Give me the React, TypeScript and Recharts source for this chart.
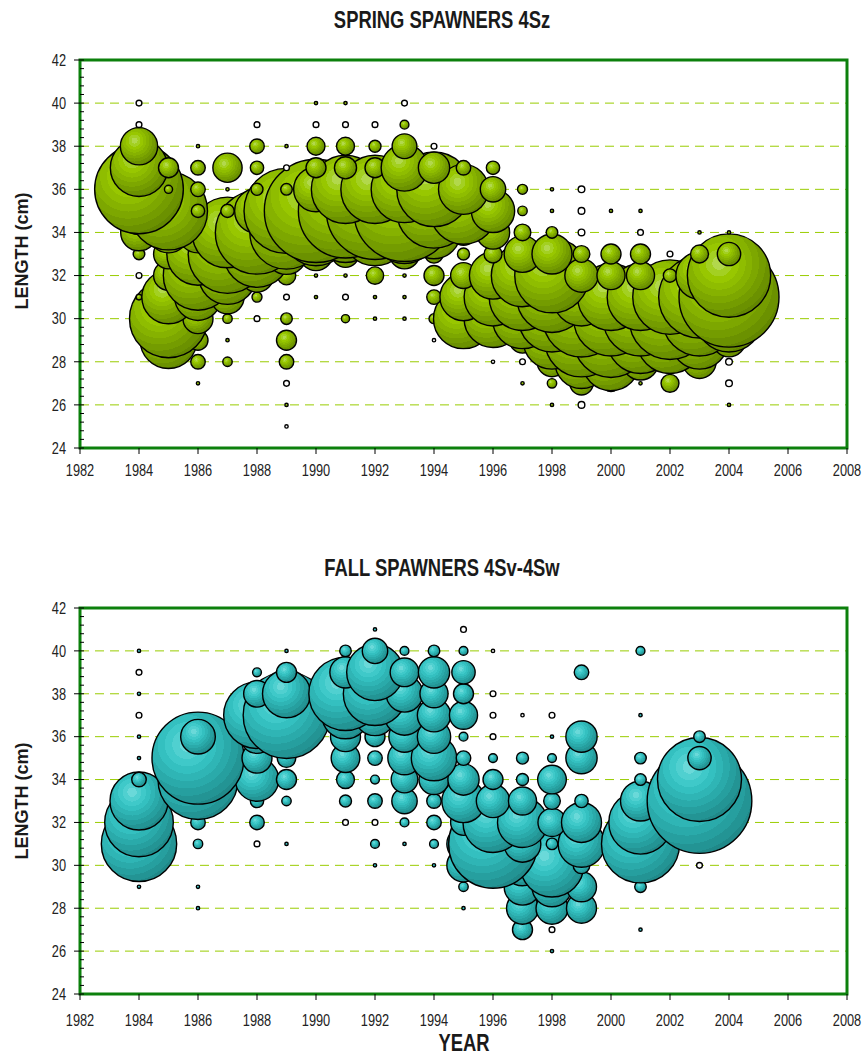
import React from 'react';
import { ScatterChart, Scatter, XAxis, YAxis, ZAxis, CartesianGrid, ReferenceArea } from 'recharts';

// ---------- categories / ticks ----------
const years = [1984, 1985, 1986, 1987, 1988, 1989, 1990, 1991, 1992, 1993, 1994, 1995, 1996, 1997, 1998, 1999, 2000, 2001, 2002, 2003, 2004];
const xTickLabels = [1982, 1984, 1986, 1988, 1990, 1992, 1994, 1996, 1998, 2000, 2002, 2004, 2006, 2008];
const yTickLabels = [24, 26, 28, 30, 32, 34, 36, 38, 40, 42];

// ---------- SPRING SPAWNERS 4Sz : bubble size by length (rows) and year (columns 1984..2004); negative = hollow bubble ----------
const spring41 = [0, 0, 0, 0, 0, 0, 0, 0, 0, 0, 0, 0, 0, 0, 0, 0, 0, 0, 0, 0, 0];
const spring40 = [-3, 0, 0, 0, 0, 0, 1, 1, 0, -3, 0, 0, 0, 0, 0, 0, 0, 0, 0, 0, 0];
const spring39 = [-3, 0, 0, 0, -3, 0, -3, -3, -3, 7, 0, 0, 0, 0, 0, 0, 0, 0, 0, 0, 0];
const spring38 = [125, 0, 1, 0, 19, 1, 29, 29, 13, 55, -3, 0, 0, 0, 0, 0, 0, 0, 0, 0, 0];
const spring37 = [296, 36, 19, 77, 16, -3, 36, 44, 36, 196, 88, 19, 16, 0, 0, 0, 0, 0, 0, 0, 0];
const spring36 = [708, 6, 19, 1, 13, 12, 180, 420, 420, 400, 500, 225, 58, 9, 1, -4, 0, 0, 0, 0, 0];
const spring35 = [200, 548, 16, 16, 180, 650, 961, 800, 850, 924, 500, 400, 169, 8, 1, -4, 1, 1, 0, 0, 0];
const spring34 = [121, 150, 150, 450, 625, 484, 400, 324, 400, 350, 250, 60, 100, 25, 12, -4, 0, -3, 0, 1, 1];
const spring33 = [12, 80, 350, 557, 400, 150, 100, 64, 36, 80, 30, 13, 29, 121, 144, 25, 36, 36, -3, 29, 49];
const spring32 = [-3, 80, 433, 300, 100, 31, 1, 1, 27, 1, 36, 60, 200, 350, 500, 100, 71, 71, 16, 200, 625];
const spring31 = [3, 256, 196, 100, 9, -3, 1, -3, 1, 1, 19, 200, 300, 400, 450, 300, 400, 400, 500, 600, 900];
const spring30 = [0, 548, 81, 8, -3, 12, 0, 6, 1, 1, 9, 324, 300, 324, 400, 529, 500, 500, 600, 500, 400];
const spring29 = [0, 289, 36, 1, 0, 36, 0, 0, 0, 0, -1, 0, 0, 60, 300, 484, 500, 400, 400, 300, 100];
const spring28 = [0, 0, 19, 8, 0, 19, 0, 0, 0, 0, 0, 0, -1, -3, 80, 256, 300, 120, 50, 100, -4];
const spring27 = [0, 0, 1, 0, 0, -3, 0, 0, 0, 0, 0, 0, 0, 1, 8, 49, 25, 1, 29, 0, -4];
const spring26 = [0, 0, 0, 0, 0, 1, 0, 0, 0, 0, 0, 0, 0, 0, 1, -4, 0, 0, 0, 0, 1];
const spring25 = [0, 0, 0, 0, 0, -1, 0, 0, 0, 0, 0, 0, 0, 0, 0, 0, 0, 0, 0, 0, 0];

// ---------- FALL SPAWNERS 4Sv-4Sw ----------
const fall41 = [0, 0, 0, 0, 0, 0, 0, 0, 1, 0, 0, -3, 0, 0, 0, 0, 0, 0, 0, 0, 0];
const fall40 = [1, 0, 0, 0, 0, 1, 0, 12, 58, 7, 12, 7, -1, 0, 0, 0, 0, 7, 0, 0, 0];
const fall39 = [-3, 0, 0, 0, 7, 36, 0, 88, 289, 74, 88, 49, 0, 0, 0, 19, 0, 0, 0, 0, 0];
const fall38 = [1, 0, 0, 0, 64, 207, 0, 484, 361, 121, 71, 36, -3, 0, 0, 0, 0, 0, 0, 0, 0];
const fall37 = [-3, 0, 0, 0, 400, 676, 0, 200, 150, 144, 100, 71, -3, -1, -3, 0, 0, 1, 0, 0, 0];
const fall36 = [1, 0, 108, 0, 100, 150, 0, 81, 36, 88, 100, 7, -3, 0, 1, 88, 0, 0, 0, 12, 0];
const fall35 = [1, 0, 762, 0, 81, 31, 0, 74, 19, 100, 185, 19, 7, 13, 7, 88, 0, 12, 0, 49, 0];
const fall34 = [19, 0, 576, 0, 169, 36, 0, 29, 7, 64, 81, 88, 36, 13, 74, 0, 0, 12, 0, 635, 0];
const fall33 = [303, 0, 0, 0, 16, 8, 0, 13, 19, 58, 19, 169, 100, 71, 25, 16, 0, 144, 0, 986, 0];
const fall32 = [424, 0, 19, 0, 19, 0, 0, -3, -3, 7, 19, 60, 324, 225, 71, 144, 0, 361, 0, 0, 0];
const fall31 = [511, 0, 8, 0, -3, 1, 0, 0, 7, 1, 7, 100, 708, 121, 12, 196, 0, 548, 0, 0, 0];
const fall30 = [0, 0, 0, 0, 0, 0, 0, 0, 1, 0, 1, 100, 0, 150, 361, 25, 0, 0, 0, -3, 0];
const fall29 = [1, 0, 1, 0, 0, 0, 0, 0, 0, 0, 0, 8, 0, 121, 144, 81, 0, 12, 0, 0, 0];
const fall28 = [0, 0, 1, 0, 0, 0, 0, 0, 0, 0, 0, 1, 0, 92, 92, 81, 0, 0, 0, 0, 0];
const fall27 = [0, 0, 0, 0, 0, 0, 0, 0, 0, 0, 0, 0, 0, 36, -3, 0, 0, 1, 0, 0, 0];
const fall26 = [0, 0, 0, 0, 0, 0, 0, 0, 0, 0, 0, 0, 0, 0, 1, 0, 0, 0, 0, 0, 0];
const fall25 = [0, 0, 0, 0, 0, 0, 0, 0, 0, 0, 0, 0, 0, 0, 0, 0, 0, 0, 0, 0, 0];

const springRows: Array<[number, number[]]> = [
  [25, spring25], [26, spring26], [27, spring27], [28, spring28], [29, spring29], [30, spring30],
  [31, spring31], [32, spring32], [33, spring33], [34, spring34], [35, spring35], [36, spring36],
  [37, spring37], [38, spring38], [39, spring39], [40, spring40], [41, spring41],
];
const fallRows: Array<[number, number[]]> = [
  [25, fall25], [26, fall26], [27, fall27], [28, fall28], [29, fall29], [30, fall30],
  [31, fall31], [32, fall32], [33, fall33], [34, fall34], [35, fall35], [36, fall36],
  [37, fall37], [38, fall38], [39, fall39], [40, fall40], [41, fall41],
];

type Pt = { year: number; length: number; z: number; neg: boolean };
function buildPoints(rows: Array<[number, number[]]>): Pt[] {
  const pts: Pt[] = [];
  rows.forEach(([len, vals]) => {
    vals.forEach((v, i) => {
      if (v !== 0) pts.push({ year: years[i], length: len, z: Math.abs(v), neg: v < 0 });
    });
  });
  return pts;
}
const springData = buildPoints(springRows);
const fallData = buildPoints(fallRows);

const minorX: number[] = [];
for (let i = 0; i <= 65; i++) minorX.push(Math.round((1982 + i * 0.4) * 10) / 10);
const minorY: number[] = [];
for (let i = 0; i <= 45; i++) minorY.push(Math.round((24 + i * 0.4) * 10) / 10);

const SANS = "'Liberation Sans', Arial, sans-serif";
const NARROW_SCALE = 0.8;

const XTick = (props: any) => {
  const { x, y, payload } = props;
  return (
    <text transform={`translate(${x},${y}) scale(${NARROW_SCALE},1)`} dy="0.71em" textAnchor="middle" fontFamily={SANS} fontSize={16} fill="#222">
      {payload.value}
    </text>
  );
};
const YTick = (props: any) => {
  const { x, y, payload } = props;
  return (
    <text transform={`translate(${x},${y}) scale(${NARROW_SCALE},1)`} dy="0.36em" textAnchor="end" fontFamily={SANS} fontSize={16} fill="#222">
      {payload.value}
    </text>
  );
};
const NoTick = () => <g />;

const makeBubble = (gradId: string) => (props: any) => {
  const { cx, cy, size, payload } = props;
  if (cx == null || cy == null) return <g />;
  const r = Math.sqrt(Math.max(size || 0, 0) / Math.PI);
  return (
    <circle
      cx={cx}
      cy={cy}
      r={r}
      fill={payload && payload.neg ? '#ffffff' : `url(#${gradId})`}
      stroke="#000"
      strokeWidth={1.4}
    />
  );
};

const greenBands = ['#b2d84c', '#a3d022', '#98c700', '#8fbd00', '#86b200', '#7da700', '#749c00', '#6b9100', '#628600'];
const tealBands = ['#6ad9d9', '#50d0d0', '#3fc9c9', '#34c0c0', '#2fb5b5', '#2aaaaa', '#269f9f', '#239494', '#208989'];

function Bands({ id, colors }: { id: string; colors: string[] }) {
  const n = colors.length;
  const stops: React.ReactNode[] = [];
  colors.forEach((c, i) => {
    stops.push(<stop key={`a${i}`} offset={`${(i / n) * 100}%`} stopColor={c} />);
    stops.push(<stop key={`b${i}`} offset={`${((i + 1) / n) * 100}%`} stopColor={c} />);
  });
  return (
    <radialGradient id={id} cx="38%" cy="35%" r="72%" fx="38%" fy="35%">
      {stops}
    </radialGradient>
  );
}

function Panel({ top, data, gradId, bottomMargin, labelGap }: { top: number; data: Pt[]; gradId: string; bottomMargin: number; labelGap: number }) {
  return (
    <div style={{ position: 'absolute', left: 0, top, width: 863, height: 500 }}>
      <ScatterChart width={863} height={500} margin={{ top: 60, right: 16, bottom: bottomMargin, left: 0 }}>
        <CartesianGrid vertical={false} stroke="#99cc00" strokeDasharray="9 6" />
        <XAxis
          type="number"
          dataKey="year"
          domain={[1982, 2008]}
          ticks={xTickLabels}
          interval={0}
          height={30}
          axisLine={false}
          tickLine={{ stroke: '#000' }}
          tickSize={6}
          tickMargin={labelGap}
          tick={<XTick />}
          allowDataOverflow
        />
        <XAxis
          xAxisId="minor"
          type="number"
          domain={[1982, 2008]}
          ticks={minorX}
          interval={0}
          mirror
          axisLine={false}
          tickLine={{ stroke: '#000' }}
          tickSize={4}
          tick={<NoTick />}
          allowDataOverflow
        />
        <YAxis
          type="number"
          dataKey="length"
          domain={[24, 42]}
          ticks={yTickLabels}
          interval={0}
          width={80}
          axisLine={false}
          tickLine={{ stroke: '#000' }}
          tickSize={6}
          tickMargin={8}
          tick={<YTick />}
          allowDataOverflow
        />
        <YAxis
          yAxisId="minor"
          type="number"
          domain={[24, 42]}
          ticks={minorY}
          interval={0}
          mirror
          axisLine={false}
          tickLine={{ stroke: '#000' }}
          tickSize={4}
          tick={<NoTick />}
          allowDataOverflow
        />
        <ZAxis type="number" dataKey="z" domain={[0, 1000]} range={[0, 8727]} />
        <Scatter data={data} shape={makeBubble(gradId)} isAnimationActive={false} />
        <ReferenceArea x1={1982} x2={2008} y1={24} y2={42} fill="none" fillOpacity={0} stroke="#0c800c" strokeWidth={3} ifOverflow="visible" />
      </ScatterChart>
    </div>
  );
}

const titleStyle = { fontFamily: SANS, fontWeight: 'bold' as const, fontSize: 23, fill: '#1a1a1a' };

export default function App() {
  return (
    <div style={{ position: 'absolute', left: 0, top: 0, width: 863, height: 1055, background: '#ffffff', overflow: 'hidden' }}>
      <svg width={0} height={0} style={{ position: 'absolute' }}>
        <defs>
          <Bands id="gradGreen" colors={greenBands} />
          <Bands id="gradTeal" colors={tealBands} />
        </defs>
      </svg>
      <Panel top={0} data={springData} gradId="gradGreen" bottomMargin={22} labelGap={11} />
      <Panel top={548} data={fallData} gradId="gradTeal" bottomMargin={24} labelGap={15} />
      <svg width={863} height={1055} style={{ position: 'absolute', left: 0, top: 0, pointerEvents: 'none' }}>
        <text transform={`translate(442,28) scale(${NARROW_SCALE},1)`} textAnchor="middle" {...titleStyle}>
          SPRING SPAWNERS 4Sz
        </text>
        <text transform={`translate(442,576) scale(${NARROW_SCALE},1)`} textAnchor="middle" {...titleStyle}>
          FALL SPAWNERS 4Sv-4Sw
        </text>
        <text transform="translate(28,251) rotate(-90)" textAnchor="middle" fontFamily={SANS} fontWeight="bold" fontSize={18} fill="#1a1a1a">
          LENGTH (cm)
        </text>
        <text transform="translate(28,801) rotate(-90)" textAnchor="middle" fontFamily={SANS} fontWeight="bold" fontSize={18} fill="#1a1a1a">
          LENGTH (cm)
        </text>
        <text transform={`translate(464,1051) scale(${NARROW_SCALE},1)`} textAnchor="middle" {...titleStyle}>
          YEAR
        </text>
      </svg>
    </div>
  );
}
